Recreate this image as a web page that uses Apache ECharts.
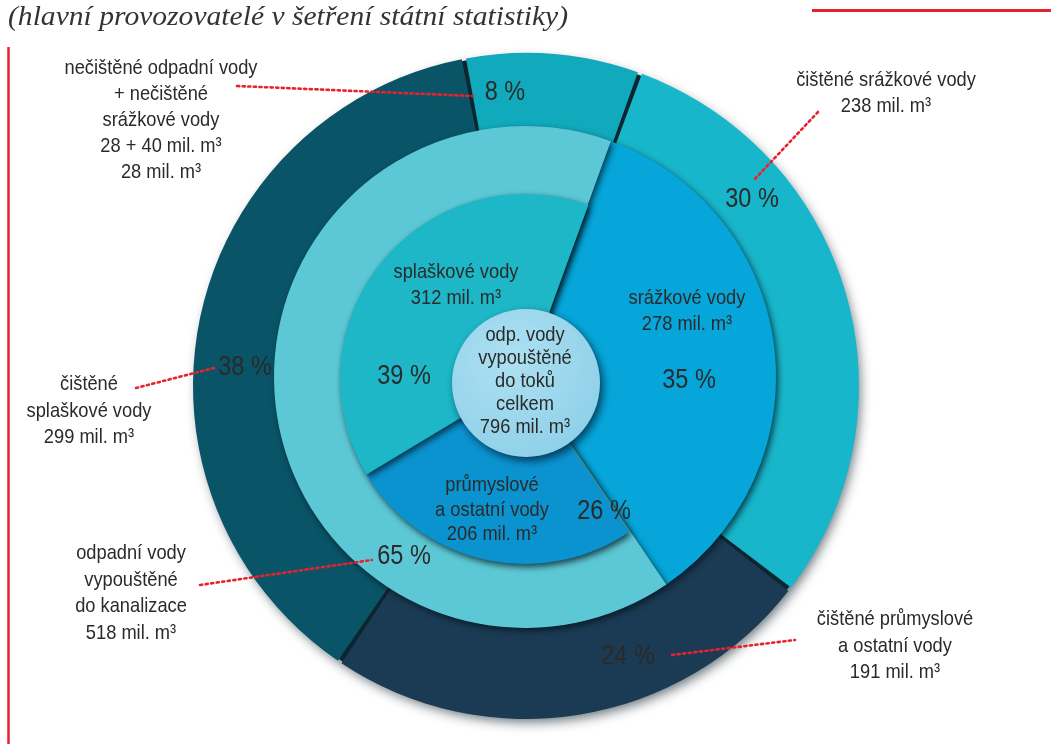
<!DOCTYPE html>
<html>
<head>
<meta charset="utf-8">
<title>Odpadní vody vypouštěné do toků</title>
<script src="https://cdn.jsdelivr.net/npm/echarts@6/dist/echarts.min.js"></script>
<style>
  html, body { margin: 0; padding: 0; background: #ffffff; }
  #chart { width: 1051px; height: 744px; }
</style>
</head>
<body>
<div id="chart"></div>
<script>
// Total discharged into rivers (mil. m3)
const totalName = 'odp. vody\nvypouštěné\ndo toků\ncelkem';
const totalValue = 796;

// Inner ring: by kind of water (clockwise from the top spike)
const innerNames = ['srážkové vody', 'průmyslové\na ostatní vody', 'splaškové vody'];
const innerValues = [278, 206, 312];
const innerPercents = [35, 26, 39];

// Middle ring: water passing through the sewer system
const sewerName = 'odpadní vody\nvypouštěné\ndo kanalizace';
const sewerValue = 518;
const sewerPercent = 65;

// Outer ring: treated / untreated
const outerNames = [
  'čištěné srážkové vody',
  'čištěné průmyslové\na ostatní vody',
  'čištěné\nsplaškové vody',
  'nečištěné odpadní vody\n+ nečištěné\nsrážkové vody'
];
const untreatedParts = [28, 40];
const outerValues = [238, 191, 299, untreatedParts[0] + untreatedParts[1]];
const outerPercents = [30, 24, 38, 8];

const SANS = '"Liberation Sans", Arial, sans-serif';
const NARROW = 0.87;           // horizontal squeeze giving a condensed face
const TEXT = '#2a2a2a';
const RED = '#e8222c';

const unit = v => v + ' mil. m³';
const pct = p => p + ' %';

const START = 70; // first boundary 20° clockwise from north

const shadow = { shadowBlur: 6, shadowColor: 'rgba(0,20,30,0.75)', shadowOffsetX: 2, shadowOffsetY: 3 };

const chart = echarts.init(document.getElementById('chart'), null, { renderer: 'canvas' });

function label(text, x, y, size, lh) {
  return {
    type: 'text', silent: true, z: 100,
    x: x, y: y, scaleX: NARROW,
    style: {
      text: text, x: 0, y: 0, fill: TEXT,
      font: size + 'px ' + SANS,
      textAlign: 'center', textVerticalAlign: 'middle',
      lineHeight: lh
    }
  };
}
function dotted(x1, y1, x2, y2) {
  return {
    type: 'line', silent: true, z: 99,
    shape: { x1: x1, y1: y1, x2: x2, y2: y2 },
    style: { stroke: RED, lineWidth: 2.6, lineDash: [2.2, 3.4], lineCap: 'round' }
  };
}

// stretch the subtitle to its set width
const TITLE = '(hlavní provozovatelé v šetření státní statistiky)';
const TITLE_FONT = 'italic 27px "Liberation Serif", "Times New Roman", serif';
const ctx = document.createElement('canvas').getContext('2d');
ctx.font = TITLE_FONT;
const titleScale = 560 / ctx.measureText(TITLE).width;

const outerColors = ['#18b6ca', '#1b3b54', '#0a5468', '#11a9bc'];
const innerColors = ['transparent', '#0b93d0', '#1db7c7'];

const OUTER_C = [526, 386];
const MID_C = [525, 377];
const INNER_C = [525, 379];

const option = {
  backgroundColor: '#ffffff',
  animation: false,
  series: [
    {
      // dark backing that shows through between the outer segments
      type: 'pie', name: 'outer-base', silent: true, z: 0,
      center: OUTER_C, radius: [215, 331],
      label: { show: false }, labelLine: { show: false },
      itemStyle: { color: '#0c2631', shadowBlur: 12, shadowColor: 'rgba(0,20,30,0.6)', shadowOffsetX: 3, shadowOffsetY: 5 },
      data: [{ name: 'celkem', value: totalValue }]
    },
    {
      type: 'pie', name: 'outer', silent: true, z: 1,
      center: OUTER_C, radius: [215, 333],
      startAngle: START, clockwise: true, padAngle: 0.75,
      label: { show: false }, labelLine: { show: false },
      data: outerValues.map((v, i) => ({ name: outerNames[i], value: v, itemStyle: { color: outerColors[i] } }))
    },
    {
      type: 'pie', name: 'middle', silent: true, z: 2,
      center: MID_C, radius: [60, 251],
      startAngle: START, clockwise: true,
      label: { show: false }, labelLine: { show: false },
      itemStyle: shadow,
      data: [
        { name: innerNames[0], value: innerValues[0], itemStyle: { color: '#06a6da' } },
        { name: sewerName, value: sewerValue, itemStyle: { color: '#5dc8d5' } }
      ]
    },
    {
      type: 'pie', name: 'inner', silent: true, z: 3,
      center: INNER_C, radius: [60, 185],
      startAngle: START, clockwise: true,
      label: { show: false }, labelLine: { show: false },
      data: innerValues.map((v, i) => ({
        name: innerNames[i], value: v,
        itemStyle: i === 0 ? { color: 'transparent' } : Object.assign({ color: innerColors[i] }, shadow)
      }))
    },
    {
      type: 'pie', name: 'total', silent: true, z: 4,
      center: [526, 383], radius: [0, 74],
      label: { show: false }, labelLine: { show: false },
      itemStyle: {
        color: {
          type: 'radial', x: 0.4, y: 0.35, r: 0.75,
          colorStops: [{ offset: 0, color: '#aee0f2' }, { offset: 1, color: '#8ccfe8' }]
        },
        shadowBlur: 8, shadowColor: 'rgba(0,20,40,0.7)', shadowOffsetX: 3, shadowOffsetY: 4
      },
      data: [{ name: totalName, value: totalValue }]
    }
  ],
  graphic: [
    {
      type: 'text', silent: true, x: 8, y: 18, scaleX: titleScale,
      style: {
        text: TITLE, x: 0, y: 0, fill: '#333333',
        font: TITLE_FONT, textVerticalAlign: 'middle'
      }
    },
    { type: 'line', silent: true, shape: { x1: 812, y1: 10.5, x2: 1051, y2: 10.5 }, style: { stroke: RED, lineWidth: 3 } },
    { type: 'line', silent: true, shape: { x1: 8.5, y1: 47, x2: 8.5, y2: 744 }, style: { stroke: RED, lineWidth: 2.5 } },

    dotted(237, 86, 473, 96),
    dotted(818, 112, 754, 180),
    dotted(136, 388, 214, 368),
    dotted(200, 585, 372, 560),
    dotted(672, 655, 795, 640),

    // outer ring captions
    label(outerNames[3] + '\n' + untreatedParts.join(' + ') + ' mil. m³' + '\n' + unit(untreatedParts[0]), 161, 120, 21, 26),
    label(outerNames[0] + '\n' + unit(outerValues[0]), 886, 93, 21, 26),
    label(outerNames[2] + '\n' + unit(outerValues[2]), 89, 411, 21, 26.5),
    label(outerNames[1] + '\n' + unit(outerValues[1]), 895, 646, 21, 26.5),
    label(sewerName + '\n' + unit(sewerValue), 131, 593, 21, 26.5),

    // inner captions
    label(innerNames[2] + '\n' + unit(innerValues[2]), 456, 285, 21, 26),
    label(innerNames[0] + '\n' + unit(innerValues[0]), 687, 311, 21, 26),
    label(innerNames[1] + '\n' + unit(innerValues[1]), 492, 510, 21, 24.5),
    label(totalName + '\n' + unit(totalValue), 525, 381, 21, 23),

    // percentages
    label(pct(outerPercents[3]), 505, 93, 27),
    label(pct(outerPercents[0]), 752, 200, 27),
    label(pct(outerPercents[2]), 245, 368, 27),
    label(pct(outerPercents[1]), 628, 657, 27),
    label(pct(sewerPercent), 404, 557, 27),
    label(pct(innerPercents[2]), 404, 377, 27),
    label(pct(innerPercents[0]), 689, 381, 27),
    label(pct(innerPercents[1]), 604, 512, 27)
  ]
};

chart.setOption(option);
</script>
</body>
</html>
